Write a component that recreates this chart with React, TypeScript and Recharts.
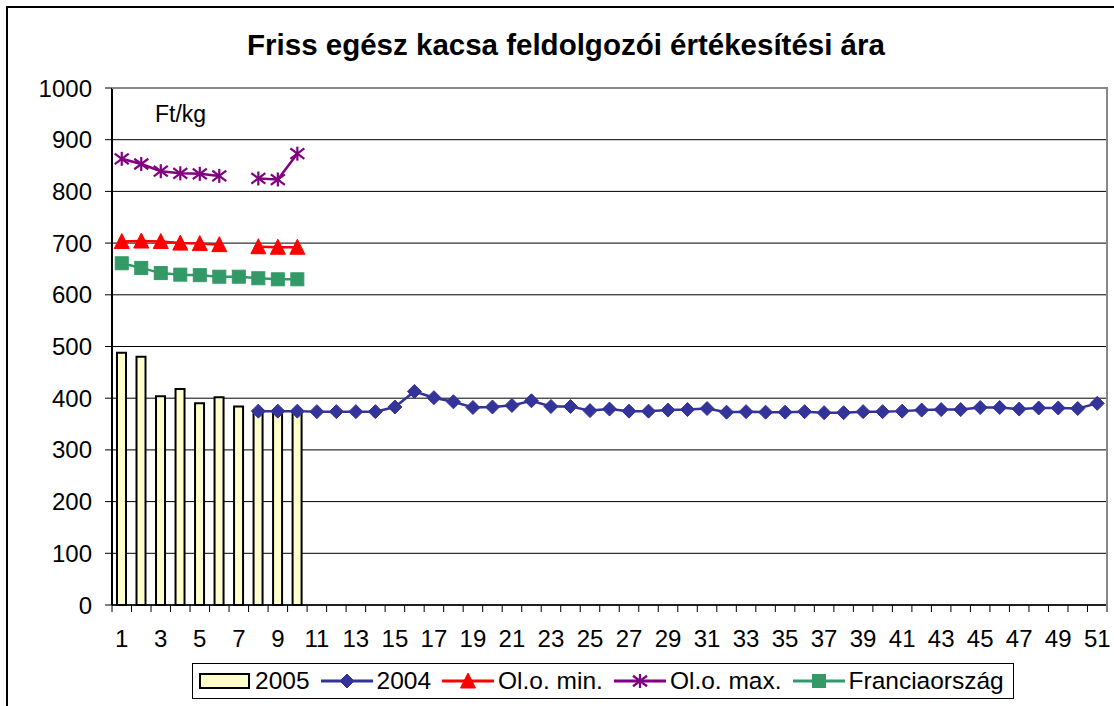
import React from "react";
import {
  ComposedChart,
  Bar,
  Line,
  XAxis,
  YAxis,
  CartesianGrid,
} from "recharts";

const categories = [
  "1", "2", "3", "4", "5", "6", "7", "8", "9", "10",
  "11", "12", "13", "14", "15", "16", "17", "18", "19", "20",
  "21", "22", "23", "24", "25", "26", "27", "28", "29", "30",
  "31", "32", "33", "34", "35", "36", "37", "38", "39", "40",
  "41", "42", "43", "44", "45", "46", "47", "48", "49", "50", "51",
];

const s2005 = [488, 480, 404, 418, 390, 402, 384, 376, 374, 374];

const s2004 = [
  null, null, null, null, null, null, null,
  375, 375, 375, 374, 374, 374, 374, 383, 413, 401, 393, 382, 383,
  386, 395, 384, 384, 376, 379, 375, 375, 377, 378, 380, 373, 374,
  373, 373, 374, 372, 372, 374, 374, 375, 377, 378, 378, 382, 382,
  379, 381, 381, 380, 390,
];

const oloMin = [703, 704, 703, 700, 699, 697, null, 693, 692, 692];
const oloMax = [863, 853, 839, 835, 834, 830, null, 825, 823, 873];
const francia = [661, 652, 642, 639, 638, 635, 635, 632, 630, 630];

const yTicks = [0, 100, 200, 300, 400, 500, 600, 700, 800, 900, 1000];

const data = categories.map((c, i) => ({
  cat: c,
  y2005: i < s2005.length ? s2005[i] : null,
  y2004: s2004[i] ?? null,
  min: i < oloMin.length ? oloMin[i] : null,
  max: i < oloMax.length ? oloMax[i] : null,
  fr: i < francia.length ? francia[i] : null,
}));

const FONT = "'Liberation Sans', Arial, Helvetica, sans-serif";
const W = 1114;
const H = 706;
const M_TOP = 88;
const M_RIGHT = 7;
const M_BOTTOM = 61;
const Y_W = 112;
const X_H = 40;
const AXIS_Y = H - M_BOTTOM - X_H;
const PLOT_W = W - Y_W - M_RIGHT;
const BAND = PLOT_W / categories.length;

const NAVY = "#333399";
const RED = "#FF0000";
const PURPLE = "#800080";
const GREEN = "#339966";

const Diamond = ({ cx, cy, r = 7 }: any) => (
  <polygon
    points={`${cx},${cy - r} ${cx + r},${cy} ${cx},${cy + r} ${cx - r},${cy}`}
    fill={NAVY}
    stroke={NAVY}
    strokeWidth={1}
  />
);
const Triangle = ({ cx, cy }: any) => (
  <polygon
    points={`${cx},${cy - 8} ${cx + 7.5},${cy + 7} ${cx - 7.5},${cy + 7}`}
    fill={RED}
    stroke={RED}
    strokeWidth={1}
  />
);
const Star = ({ cx, cy, r = 7 }: any) => (
  <g stroke={PURPLE} strokeWidth={2.2}>
    <line x1={cx} y1={cy - r} x2={cx} y2={cy + r} />
    <line x1={cx - r} y1={cy - r * 0.75} x2={cx + r} y2={cy + r * 0.75} />
    <line x1={cx - r} y1={cy + r * 0.75} x2={cx + r} y2={cy - r * 0.75} />
  </g>
);
const Square = ({ cx, cy, r = 6.5 }: any) => (
  <rect x={cx - r} y={cy - r} width={r * 2} height={r * 2} fill={GREEN} stroke={GREEN} strokeWidth={1} />
);

const mkDot = (Shape: any) => (props: any) => {
  const { cx, cy, value, index } = props;
  if (cx == null || cy == null || value == null || Number.isNaN(cy)) {
    return <g key={`d-${index}`} />;
  }
  return (
    <g key={`d-${index}`}>
      <Shape cx={cx} cy={cy} />
    </g>
  );
};

const XTick = (props: any) => {
  const { x, payload, index } = props;
  const v = Number(payload.value);
  const isLast = index === categories.length - 1;
  return (
    <g>
      <line x1={x - BAND / 2} y1={AXIS_Y} x2={x - BAND / 2} y2={AXIS_Y + 7} stroke="#000" strokeWidth={1} />
      {isLast && (
        <line x1={x + BAND / 2} y1={AXIS_Y} x2={x + BAND / 2} y2={AXIS_Y + 7} stroke="#000" strokeWidth={1} />
      )}
      {v % 2 === 1 && (
        <text x={x} y={AXIS_Y + 42} textAnchor="middle" fontSize={24} fontFamily={FONT} fill="#000">
          {payload.value}
        </text>
      )}
    </g>
  );
};

const LineIcon = ({ color, Shape }: any) => (
  <svg width={52} height={20} style={{ display: "block" }}>
    <line x1={0} y1={10} x2={52} y2={10} stroke={color} strokeWidth={3} />
    <Shape cx={26} cy={10} />
  </svg>
);

const legendItems = [
  { label: "2005", kind: "bar" },
  { label: "2004", kind: "line", color: NAVY, Shape: Diamond },
  { label: "Ol.o. min.", kind: "line", color: RED, Shape: Triangle },
  { label: "Ol.o. max.", kind: "line", color: PURPLE, Shape: Star },
  { label: "Franciaország", kind: "line", color: GREEN, Shape: Square },
];

export default function App() {
  return (
    <div
      style={{
        position: "fixed",
        left: 0,
        top: 0,
        width: W,
        height: H,
        overflow: "hidden",
        background: "#fff",
        fontFamily: FONT,
      }}
    >
      <div
        style={{
          position: "absolute",
          left: 6,
          top: 6,
          width: 1140,
          height: 740,
          borderTop: "2px solid #000",
          borderLeft: "2px solid #000",
        }}
      />
      <div
        style={{
          position: "absolute",
          left: 0,
          top: 27,
          width: 1132,
          textAlign: "center",
          fontSize: 29.5,
          fontWeight: "bold",
          color: "#000",
          lineHeight: "36px",
        }}
      >
        Friss egész kacsa feldolgozói értékesítési ára
      </div>
      <div style={{ position: "absolute", left: 0, top: 0 }}>
        <ComposedChart
          width={W}
          height={H}
          data={data}
          margin={{ top: M_TOP, right: M_RIGHT, bottom: M_BOTTOM, left: 0 }}
          barCategoryGap="48%"
        >
          <CartesianGrid vertical={false} stroke="#000" strokeWidth={1} />
          <XAxis
            dataKey="cat"
            interval={0}
            height={X_H}
            tickLine={false}
            axisLine={{ stroke: "#000", strokeWidth: 1.5 }}
            tick={<XTick />}
          />
          <YAxis
            domain={[0, 1000]}
            ticks={yTicks}
            width={Y_W}
            tickSize={7}
            tickMargin={13}
            interval={0}
            axisLine={{ stroke: "#000", strokeWidth: 2 }}
            tickLine={{ stroke: "#000" }}
            tick={{ fontSize: 24, fill: "#000", fontFamily: FONT }}
          />
          <Bar
            dataKey="y2005"
            name="2005"
            fill="#FFFFCC"
            stroke="#000"
            strokeWidth={2}
            barSize={9}
            isAnimationActive={false}
          />
          <Line
            dataKey="y2004"
            name="2004"
            stroke={NAVY}
            strokeWidth={2.5}
            dot={mkDot(Diamond)}
            activeDot={false}
            isAnimationActive={false}
          />
          <Line
            dataKey="min"
            name="Ol.o. min."
            stroke={RED}
            strokeWidth={2.5}
            dot={mkDot(Triangle)}
            activeDot={false}
            isAnimationActive={false}
          />
          <Line
            dataKey="max"
            name="Ol.o. max."
            stroke={PURPLE}
            strokeWidth={2.5}
            dot={mkDot(Star)}
            activeDot={false}
            isAnimationActive={false}
          />
          <Line
            dataKey="fr"
            name="Franciaország"
            stroke={GREEN}
            strokeWidth={2.5}
            dot={mkDot(Square)}
            activeDot={false}
            isAnimationActive={false}
          />
        </ComposedChart>
      </div>
      <div
        style={{
          position: "absolute",
          left: Y_W,
          top: M_TOP - 1,
          width: PLOT_W - 1,
          height: AXIS_Y - M_TOP,
          borderTop: "2px solid #888",
          borderRight: "2px solid #888",
          pointerEvents: "none",
        }}
      />
      <div
        style={{
          position: "absolute",
          left: 155,
          top: 101,
          fontSize: 23,
          color: "#000",
        }}
      >
        Ft/kg
      </div>
      <div
        style={{
          position: "absolute",
          left: 192,
          top: 663,
          width: 822,
          height: 36,
          border: "1px solid #000",
          display: "flex",
          alignItems: "center",
          paddingLeft: 6,
          boxSizing: "border-box",
          fontSize: 24.5,
          color: "#000",
        }}
      >
        {legendItems.map((it: any) => (
          <div key={it.label} style={{ display: "flex", alignItems: "center", marginRight: 11 }}>
            {it.kind === "bar" ? (
              <svg width={52} height={18} style={{ display: "block" }}>
                <rect x={1} y={2} width={49} height={14} fill="#FFFFCC" stroke="#000" strokeWidth={2} />
              </svg>
            ) : (
              <LineIcon color={it.color} Shape={it.Shape} />
            )}
            <span style={{ marginLeft: 4, whiteSpace: "nowrap" }}>{it.label}</span>
          </div>
        ))}
      </div>
    </div>
  );
}
